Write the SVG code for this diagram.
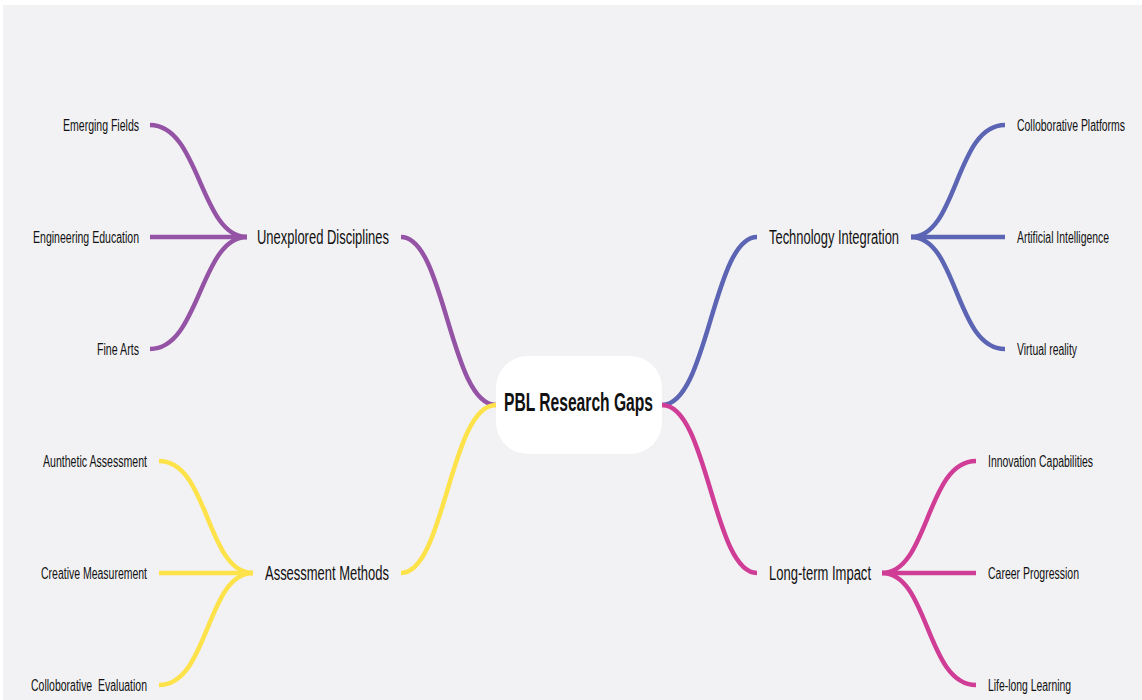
<svg xmlns="http://www.w3.org/2000/svg" width="1142" height="700" viewBox="0 0 1142 700">
<style>
.c{fill:none;stroke-width:4.5;stroke-linecap:butt}
.p{stroke:#9553a6}.b{stroke:#5c64b4}.y{stroke:#fde24a}.k{stroke:#d03d96}
text{font-family:"Liberation Sans",Arial,sans-serif;fill:#111}
.s{font-size:16px}.m{font-size:20px}
.t{font-size:25px;font-weight:bold}
</style>
<rect x="0" y="0" width="1142" height="700" fill="#ffffff"/>
<rect x="3" y="5" width="1139" height="695" fill="#f2f2f4"/>
<g id="connectors">
<path class="c p" d="M401,237 C445,237 450,405 496,405"/>
<path class="c y" d="M401,573 C445,573 450,405 496,405"/>
<path class="c b" d="M757,237 C713,237 708,405 662,405"/>
<path class="c k" d="M757,573 C713,573 708,405 662,405"/>
<path class="c p" d="M150,125 C200,125 200,237 247,237"/>
<path class="c p" d="M150,237 L247,237"/>
<path class="c p" d="M150,349 C200,349 200,237 247,237"/>
<path class="c y" d="M159,461 C209,461 206,573 253,573"/>
<path class="c y" d="M159,573 L253,573"/>
<path class="c y" d="M159,685 C209,685 206,573 253,573"/>
<path class="c b" d="M1005,125 C955,125 958,237 911,237"/>
<path class="c b" d="M1005,237 L911,237"/>
<path class="c b" d="M1005,349 C955,349 958,237 911,237"/>
<path class="c k" d="M976,461 C926,461 929,573 882,573"/>
<path class="c k" d="M976,573 L882,573"/>
<path class="c k" d="M976,685 C926,685 929,573 882,573"/>
</g>
<g id="root">
<rect x="496" y="356" width="166" height="98" rx="32" fill="#ffffff"/>
<text class="t" x="504" y="411" textLength="149" lengthAdjust="spacingAndGlyphs">PBL Research Gaps</text>
</g>
<g id="unexplored"><text class="m" x="257" y="244" textLength="132" lengthAdjust="spacingAndGlyphs">Unexplored Disciplines</text></g>
<g id="technology"><text class="m" x="769" y="244" textLength="130" lengthAdjust="spacingAndGlyphs">Technology Integration</text></g>
<g id="assessment"><text class="m" x="265" y="580" textLength="124" lengthAdjust="spacingAndGlyphs">Assessment Methods</text></g>
<g id="longterm"><text class="m" x="769" y="580" textLength="102" lengthAdjust="spacingAndGlyphs">Long-term Impact</text></g>
<g id="emerging"><text class="s" x="63" y="131" textLength="76" lengthAdjust="spacingAndGlyphs">Emerging Fields</text></g>
<g id="engineering"><text class="s" x="33" y="243" textLength="106" lengthAdjust="spacingAndGlyphs">Engineering Education</text></g>
<g id="finearts"><text class="s" x="97" y="355" textLength="42" lengthAdjust="spacingAndGlyphs">Fine Arts</text></g>
<g id="authentic"><text class="s" x="43" y="467" textLength="104" lengthAdjust="spacingAndGlyphs">Aunthetic Assessment</text></g>
<g id="creative"><text class="s" x="41" y="579" textLength="106" lengthAdjust="spacingAndGlyphs">Creative Measurement</text></g>
<g id="collabeval"><text class="s" x="31" y="691" textLength="116" lengthAdjust="spacingAndGlyphs" xml:space="preserve">Colloborative  Evaluation</text></g>
<g id="platforms"><text class="s" x="1017" y="131" textLength="108" lengthAdjust="spacingAndGlyphs">Colloborative Platforms</text></g>
<g id="ai"><text class="s" x="1017" y="243" textLength="92" lengthAdjust="spacingAndGlyphs">Artificial Intelligence</text></g>
<g id="vr"><text class="s" x="1017" y="355" textLength="60" lengthAdjust="spacingAndGlyphs">Virtual reality</text></g>
<g id="innovation"><text class="s" x="988" y="467" textLength="105" lengthAdjust="spacingAndGlyphs">Innovation Capabilities</text></g>
<g id="career"><text class="s" x="988" y="579" textLength="91" lengthAdjust="spacingAndGlyphs">Career Progression</text></g>
<g id="lifelong"><text class="s" x="988" y="691" textLength="83" lengthAdjust="spacingAndGlyphs">Life-long Learning</text></g>
</svg>
